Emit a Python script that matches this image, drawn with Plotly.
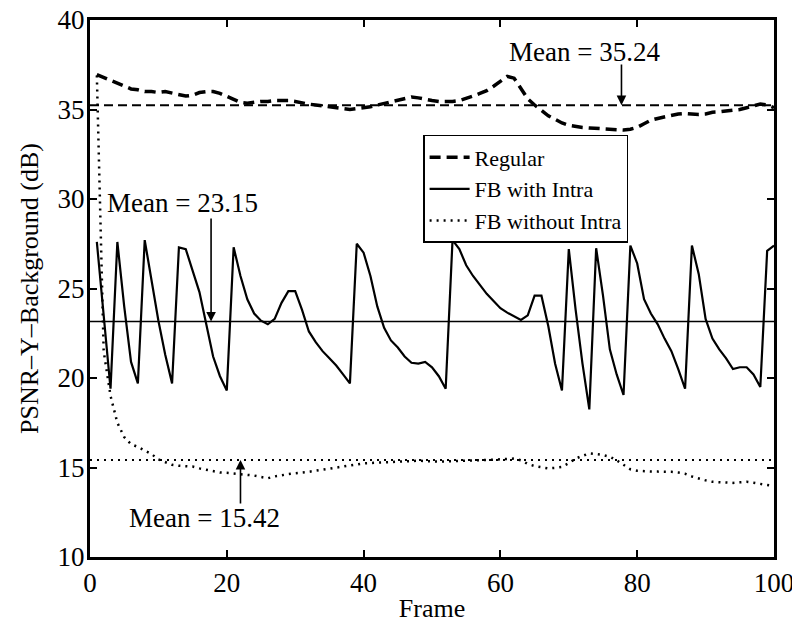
import plotly.graph_objects as go

frames = list(range(1, 101))

regular = [36.95, 36.8, 36.65, 36.5, 36.3, 36.15, 36.1, 36.0, 36.0, 35.95,
           36.0, 35.9, 35.8, 35.75, 35.8, 35.95, 36.0, 36.0, 35.9, 35.75,
           35.6, 35.4, 35.35, 35.4, 35.45, 35.45, 35.5, 35.5, 35.5, 35.45,
           35.35, 35.3, 35.25, 35.2, 35.15, 35.1, 35.05, 35.0, 35.05, 35.1,
           35.15, 35.25, 35.35, 35.45, 35.5, 35.6, 35.7, 35.65, 35.55, 35.5,
           35.45, 35.45, 35.45, 35.5, 35.6, 35.75, 35.9, 36.05, 36.3, 36.6,
           36.85, 36.75, 36.2, 35.6, 35.25, 34.95, 34.65, 34.45, 34.25, 34.12,
           34.05, 34.0, 33.97, 33.95, 33.92, 33.9, 33.87, 33.85, 33.9, 34.0,
           34.2, 34.4, 34.5, 34.6, 34.7, 34.75, 34.78, 34.75, 34.72, 34.75,
           34.85, 34.87, 34.9, 34.95, 35.0, 35.1, 35.2, 35.3, 35.25, 35.1]

fb_intra = [27.6, 23.3, 19.4, 27.6, 24.0, 20.9, 19.7, 27.7, 25.5, 23.2,
            21.3, 19.7, 27.3, 27.2, 26.0, 24.8, 23.0, 21.2, 20.1, 19.3,
            27.3, 25.7, 24.4, 23.6, 23.2, 23.0, 23.3, 24.2, 24.85, 24.85,
            23.8, 22.6, 22.0, 21.5, 21.1, 20.7, 20.2, 19.7, 27.5, 27.0,
            25.7, 24.0, 22.8, 22.1, 21.7, 21.2, 20.85, 20.8, 20.9, 20.6,
            20.1, 19.4, 27.7, 27.2, 26.3, 25.7, 25.2, 24.7, 24.3, 23.9,
            23.65, 23.45, 23.24, 23.5, 24.6, 24.6, 22.9, 20.8, 19.3, 27.2,
            23.8, 20.8, 18.25, 27.25, 24.6, 21.6, 20.2, 19.05, 27.4, 26.4,
            24.4, 23.6, 23.0, 22.2, 21.5, 20.5, 19.4, 27.4, 25.8, 23.3,
            22.2, 21.6, 21.1, 20.5, 20.6, 20.6, 20.2, 19.5, 27.1, 27.4]

fb_no_intra = [36.9, 21.5, 19.0, 17.5, 16.7, 16.3, 16.15, 15.95, 15.75, 15.45,
               15.3, 15.15, 15.1, 15.07, 15.05, 14.95, 14.88, 14.8, 14.72, 14.7,
               14.67, 14.64, 14.6, 14.55, 14.47, 14.4, 14.5, 14.58, 14.63, 14.68,
               14.71, 14.76, 14.82, 14.88, 14.95, 15.02, 15.07, 15.13, 15.2, 15.23,
               15.25, 15.27, 15.28, 15.3, 15.32, 15.34, 15.36, 15.38, 15.36, 15.33,
               15.33, 15.34, 15.35, 15.37, 15.38, 15.39, 15.4, 15.42, 15.44, 15.46,
               15.48, 15.5, 15.4, 15.2, 15.08, 15.0, 14.95, 14.98, 15.03, 15.25,
               15.5, 15.65, 15.79, 15.75, 15.7, 15.6, 15.4, 15.15, 14.9, 14.82,
               14.78, 14.77, 14.77, 14.77, 14.76, 14.72, 14.65, 14.5, 14.38, 14.28,
               14.2, 14.17, 14.14, 14.14, 14.17, 14.2, 14.15, 14.07, 14.02, 13.96]

mean_regular = 35.24
mean_fb_intra = 23.15
mean_fb_no_intra = 15.42
mean_span = [0, 100]

x_ticks = [0, 20, 40, 60, 80, 100]
y_ticks = [10, 15, 20, 25, 30, 35, 40]

FONT = "Liberation Serif, Times New Roman, serif"

fig = go.Figure()

# mean lines
fig.add_trace(go.Scatter(x=mean_span, y=[mean_regular] * 2, mode="lines",
                         line=dict(color="black", width=2, dash="9px,5px"),
                         showlegend=False, hoverinfo="skip"))
fig.add_trace(go.Scatter(x=mean_span, y=[mean_fb_intra] * 2, mode="lines",
                         line=dict(color="black", width=1.5),
                         showlegend=False, hoverinfo="skip"))
fig.add_trace(go.Scatter(x=mean_span, y=[mean_fb_no_intra] * 2, mode="lines",
                         line=dict(color="black", width=2, dash="2px,5px"),
                         showlegend=False, hoverinfo="skip"))

# series
fig.add_trace(go.Scatter(x=frames, y=regular, mode="lines", name="Regular",
                         line=dict(color="black", width=3.5, dash="11px,6px")))
fig.add_trace(go.Scatter(x=frames, y=fb_intra, mode="lines", name="FB with Intra",
                         line=dict(color="black", width=2.2)))
fig.add_trace(go.Scatter(x=frames, y=fb_no_intra, mode="lines", name="FB without Intra",
                         line=dict(color="black", width=2.5, dash="2px,5px")))

ann_font = dict(family=FONT, size=27, color="black")

# mean labels
fig.add_annotation(x=72.3, y=38.2, text="Mean = 35.24", showarrow=False, font=ann_font)
fig.add_annotation(x=13.5, y=29.8, text="Mean = 23.15", showarrow=False, font=ann_font)
fig.add_annotation(x=16.8, y=12.2, text="Mean = 15.42", showarrow=False, font=ann_font)

# arrows
arrow_kw = dict(text="", showarrow=True, arrowhead=2, arrowsize=1.2, arrowwidth=1.6,
                arrowcolor="black", axref="x", ayref="y")
fig.add_annotation(x=77.7, y=mean_regular, ax=77.7, ay=37.6, **arrow_kw)
fig.add_annotation(x=17.7, y=mean_fb_intra, ax=17.7, ay=29.0, **arrow_kw)
fig.add_annotation(x=22.0, y=mean_fb_no_intra, ax=22.0, ay=12.9, **arrow_kw)

axis_common = dict(showline=True, linecolor="black", linewidth=3, mirror="ticks",
                   ticks="inside", ticklen=7, tickwidth=2, tickcolor="black",
                   showgrid=False, zeroline=False, automargin=False,
                   ticklabeloverflow="allow",
                   tickfont=dict(family=FONT, size=27, color="black"))

fig.update_xaxes(range=[0, 100], tickvals=x_ticks,
                 title=dict(text="Frame", font=dict(family=FONT, size=26, color="black"),
                            standoff=2),
                 **axis_common)
fig.update_yaxes(range=[10, 40], tickvals=y_ticks, ticklabelstandoff=-3,
                 title=dict(text="PSNR–Y–Background (dB)",
                            font=dict(family=FONT, size=26, color="black"), standoff=12),
                 **axis_common)

fig.update_layout(
    width=800, height=623,
    margin=dict(l=82, r=34, t=12, b=74),
    paper_bgcolor="white", plot_bgcolor="white",
    legend=dict(x=0.487, y=0.786, xanchor="left", yanchor="top",
                bgcolor="white", bordercolor="black", borderwidth=1.5,
                font=dict(family=FONT, size=22, color="black"),
                tracegroupgap=0, itemwidth=40),
    showlegend=True,
)

fig.write_html("out.html")
